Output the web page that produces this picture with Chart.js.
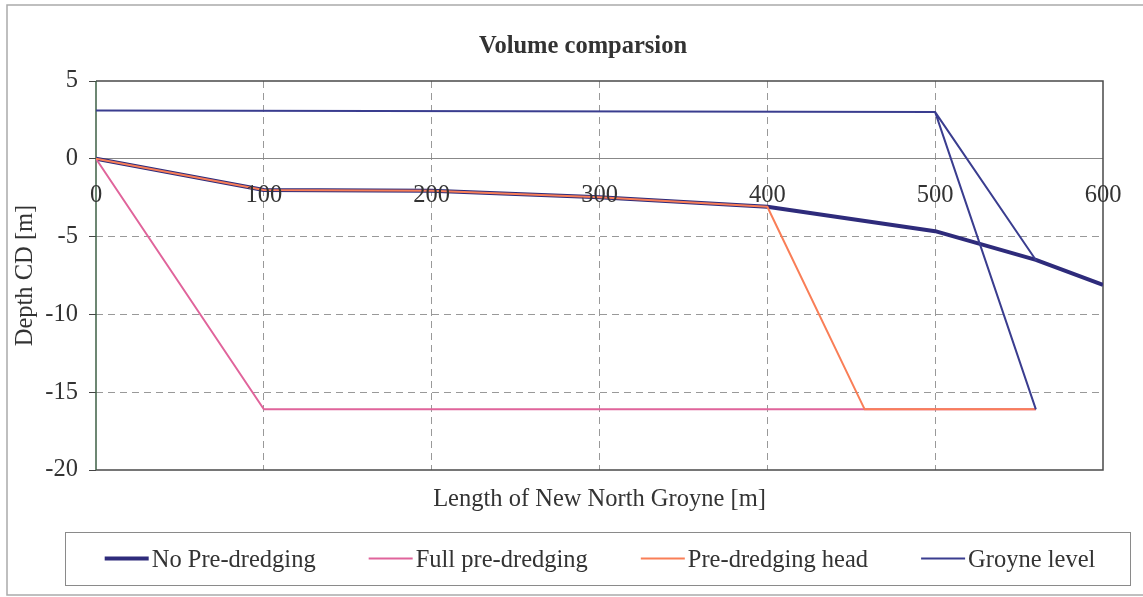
<!DOCTYPE html>
<html>
<head>
<meta charset="utf-8">
<script src="https://cdn.jsdelivr.net/npm/chart.js@4.4.1/dist/chart.umd.min.js"></script>
<style>
  html, body { margin: 0; padding: 0; background: #ffffff; }
  #wrap { width: 1143px; height: 597px; position: relative; }
</style>
</head>
<body>
<div id="wrap"><canvas id="c"></canvas></div>
<script>
// Labels
const chartTitle = 'Volume comparsion';
const xTitle = 'Length of New North Groyne [m]';
const yTitle = 'Depth CD [m]';
const xTicks = [0, 100, 200, 300, 400, 500, 600];
const yTicks = [5, 0, -5, -10, -15, -20];
const seriesNames = ['No Pre-dredging', 'Full pre-dredging', 'Pre-dredging head', 'Groyne level'];

// Profiles: chainage [m] and depth CD [m]
const noPreX = [0, 100, 200, 300, 400, 500, 560, 600];
const noPreY = [0, -2.0, -2.05, -2.47, -3.08, -4.65, -6.5, -8.1];
const fullX = [0, 100, 560];
const fullY = [0, -16.1, -16.1];
const headX = [0, 100, 200, 300, 400, 458, 560];
const headY = [0, -2.0, -2.05, -2.47, -3.08, -16.1, -16.1];
const groyneX = [0, 500, 560, 500, 560];
const groyneY = [3.1, 3.0, -6.5, 3.0, -16.1];

const FONT = '"Liberation Serif", "Times New Roman", serif';
const FS = 24.5;
const TEXT = '#333333';

function pts(xs, ys) { return xs.map((x, i) => ({ x: x, y: ys[i] })); }

const colors = ['#2E2B7B', '#E0649B', '#F97E57', '#3A3D8F'];
const widths = [4, 2, 2, 2];
const seriesX = [noPreX, fullX, headX, groyneX];
const seriesY = [noPreY, fullY, headY, groyneY];

const datasets = seriesNames.map((name, i) => ({
  label: name,
  data: pts(seriesX[i], seriesY[i]),
  showLine: true,
  borderColor: colors[i],
  backgroundColor: colors[i],
  borderWidth: widths[i],
  borderJoinStyle: 'round',
  pointRadius: 0,
  pointHoverRadius: 0,
  fill: false,
  tension: 0,
  order: seriesNames.length - i
}));

const decor = {
  id: 'decor',
  beforeDraw(chart) {
    const ctx = chart.ctx;
    ctx.save();
    ctx.fillStyle = '#ffffff';
    ctx.fillRect(0, 0, chart.width, chart.height);
    ctx.strokeStyle = '#aaaaaa';
    ctx.lineWidth = 1.5;
    ctx.strokeRect(7, 5, chart.width + 20, 590);
    ctx.restore();
  },
  beforeDatasetsDraw(chart) {
    const ctx = chart.ctx;
    const a = chart.chartArea;
    ctx.save();
    ctx.lineWidth = 1.5;
    ctx.strokeStyle = '#4a4a4a';
    ctx.beginPath();
    ctx.moveTo(a.left, a.top);
    ctx.lineTo(a.right, a.top);
    ctx.lineTo(a.right, a.bottom);
    ctx.lineTo(a.left, a.bottom);
    ctx.stroke();
    ctx.strokeStyle = '#3d5f45';
    ctx.beginPath();
    ctx.moveTo(a.left, a.top);
    ctx.lineTo(a.left, a.bottom);
    ctx.stroke();
    ctx.restore();
  },
  afterDatasetsDraw(chart) {
    const ctx = chart.ctx;
    const xs = chart.scales.x;
    const ys = chart.scales.y;
    const y0 = ys.getPixelForValue(0);
    ctx.save();
    ctx.font = FS + 'px ' + FONT;
    ctx.fillStyle = TEXT;
    ctx.textAlign = 'center';
    ctx.textBaseline = 'alphabetic';
    xTicks.forEach(v => {
      ctx.fillText(String(v), xs.getPixelForValue(v), y0 + 43);
    });
    ctx.restore();
  },
  afterDraw(chart) {
    const ctx = chart.ctx;
    ctx.save();
    // title
    ctx.font = 'bold ' + FS + 'px ' + FONT;
    ctx.fillStyle = TEXT;
    ctx.textAlign = 'center';
    ctx.textBaseline = 'alphabetic';
    ctx.fillText(chartTitle, 583, 53);

    // legend
    ctx.strokeStyle = '#8a8a8a';
    ctx.lineWidth = 1;
    ctx.strokeRect(65.5, 532.5, 1065, 53);
    ctx.font = FS + 'px ' + FONT;
    const sample = 44, gapIn = 3, gapOut = 53;
    const ds = chart.data.datasets;
    const tw = ds.map(d => ctx.measureText(d.label).width);
    let total = tw.reduce((s, w) => s + w + sample + gapIn, 0) + gapOut * (ds.length - 1);
    let x = 600 - total / 2;
    ctx.textAlign = 'left';
    ds.forEach((d, i) => {
      ctx.strokeStyle = d.borderColor;
      ctx.lineWidth = d.borderWidth;
      ctx.beginPath();
      ctx.moveTo(x, 558.5);
      ctx.lineTo(x + sample, 558.5);
      ctx.stroke();
      ctx.fillStyle = TEXT;
      ctx.fillText(d.label, x + sample + gapIn, 567);
      x += sample + gapIn + tw[i] + gapOut;
    });
    ctx.restore();
  }
};

new Chart(document.getElementById('c'), {
  type: 'scatter',
  data: { datasets: datasets },
  options: {
    responsive: true,
    maintainAspectRatio: false,
    animation: false,
    events: [],
    layout: { padding: { left: 7, right: 40, top: 81, bottom: 79 } },
    plugins: {
      legend: { display: false },
      title: { display: false },
      tooltip: { enabled: false }
    },
    scales: {
      x: {
        type: 'linear',
        min: 0,
        max: 600,
        afterBuildTicks(scale) { scale.ticks = xTicks.map(v => ({ value: v })); },
        afterFit(scale) { scale.height = 48; },
        ticks: { display: false },
        border: { display: false, dash: [7, 5] },
        grid: {
          drawTicks: false,
          lineWidth: 1,
          color: ctx => (ctx.tick && (ctx.tick.value === 0 || ctx.tick.value === 600)) ? 'rgba(0,0,0,0)' : '#999999'
        },
        title: {
          display: true,
          text: xTitle,
          color: TEXT,
          font: { family: FONT, size: FS },
          padding: { top: 4, bottom: 4 }
        }
      },
      y: {
        type: 'linear',
        min: -20,
        max: 5,
        afterBuildTicks(scale) { scale.ticks = yTicks.map(v => ({ value: v })); },
        afterFit(scale) { scale.width = 89; },
        ticks: {
          color: TEXT,
          padding: 11,
          font: { family: FONT, size: FS }
        },
        border: {
          display: false,
          dash: ctx => (ctx.tick && ctx.tick.value === 0) ? [] : [7, 5]
        },
        grid: {
          drawTicks: true,
          tickLength: 7,
          tickColor: '#444444',
          tickBorderDash: [],
          lineWidth: 1,
          color: ctx => {
            if (!ctx.tick) return '#999999';
            const v = ctx.tick.value;
            if (v === 5 || v === -20) return 'rgba(0,0,0,0)';
            return v === 0 ? '#888888' : '#999999';
          }
        },
        title: {
          display: true,
          text: yTitle,
          color: TEXT,
          font: { family: FONT, size: FS },
          padding: { top: 4, bottom: 4 }
        }
      }
    }
  },
  plugins: [decor]
});
</script>
</body>
</html>
